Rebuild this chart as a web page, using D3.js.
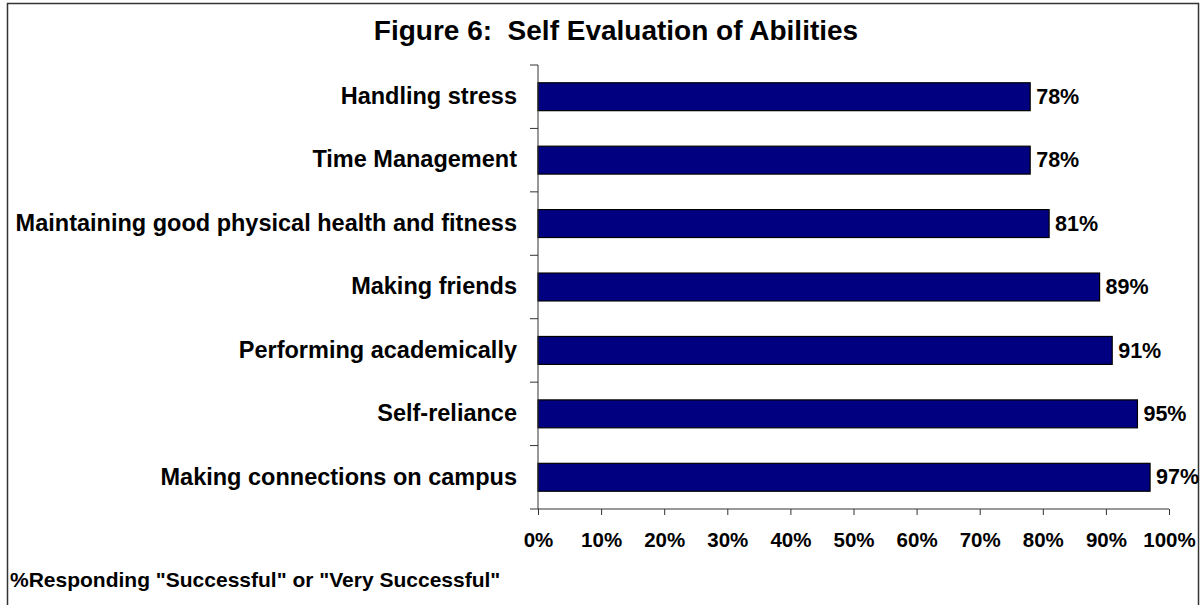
<!DOCTYPE html>
<html>
<head>
<meta charset="utf-8">
<script src="https://cdn.jsdelivr.net/npm/d3@7"></script>
<style>
  body { margin: 0; background: white; }
  svg { display: block; font-family: "Liberation Sans", Arial, sans-serif; }
</style>
</head>
<body>
<div id="chart"></div>
<script>
// data
const categories = [
  "Handling stress",
  "Time Management",
  "Maintaining good physical health and fitness",
  "Making friends",
  "Performing academically",
  "Self-reliance",
  "Making connections on campus"
];
const values = [78, 78, 81, 89, 91, 95, 97];
const xTicks = [0, 10, 20, 30, 40, 50, 60, 70, 80, 90, 100];
const title = "Figure 6:  Self Evaluation of Abilities";
const footnote = '%Responding "Successful" or "Very Successful"';

const width = 1203, height = 605;
const margins = { top: 65, right: 34, bottom: 96, left: 538 };
const boundedWidth = width - margins.left - margins.right;
const boundedHeight = height - margins.top - margins.bottom;

const svg = d3.select("#chart")
  .append("svg")
  .attr("width", width)
  .attr("height", height);

// outer frame (bottom edge runs off the picture)
svg.append("rect")
  .attr("x", 7.5).attr("y", 3.5)
  .attr("width", 1191).attr("height", 620)
  .attr("fill", "white")
  .attr("stroke", "#333")
  .attr("stroke-width", 1.5);

svg.append("text")
  .attr("x", 616).attr("y", 40)
  .attr("text-anchor", "middle")
  .attr("font-size", 28)
  .attr("font-weight", 700)
  .style("white-space", "pre")
  .text(title);

const bounds = svg.append("g")
  .attr("transform", `translate(${margins.left},${margins.top})`);

const xScale = d3.scaleLinear()
  .domain([0, 100])
  .range([0, boundedWidth]);

const yScale = d3.scaleBand()
  .domain(categories)
  .range([0, boundedHeight])
  .paddingInner(0.56)
  .paddingOuter(0.28);

// bars
bounds.selectAll("rect.bar")
  .data(categories)
  .join("rect")
  .attr("class", "bar")
  .attr("x", 0)
  .attr("y", d => yScale(d))
  .attr("width", (d, i) => xScale(values[i]))
  .attr("height", yScale.bandwidth())
  .attr("fill", "#000080")
  .attr("stroke", "black")
  .attr("stroke-width", 1.2);

// value labels
bounds.selectAll("text.val")
  .data(categories)
  .join("text")
  .attr("class", "val")
  .attr("x", (d, i) => xScale(values[i]) + 6)
  .attr("y", d => yScale(d) + yScale.bandwidth() / 2)
  .attr("dy", "0.33em")
  .attr("font-size", 21.5)
  .attr("font-weight", 700)
  .text((d, i) => values[i] + "%");

// y axis: ticks at band boundaries
const step = boundedHeight / categories.length;
const yAxisG = bounds.append("g");
yAxisG.append("line")
  .attr("x1", 0).attr("x2", 0)
  .attr("y1", 0).attr("y2", boundedHeight)
  .attr("stroke", "#333");
yAxisG.selectAll("line.tick")
  .data(d3.range(categories.length + 1))
  .join("line")
  .attr("class", "tick")
  .attr("x1", -8).attr("x2", 0)
  .attr("y1", i => i * step).attr("y2", i => i * step)
  .attr("stroke", "#333");
yAxisG.selectAll("text")
  .data(categories)
  .join("text")
  .attr("x", -21)
  .attr("y", d => yScale(d) + yScale.bandwidth() / 2)
  .attr("dy", "0.31em")
  .attr("text-anchor", "end")
  .attr("font-size", 23.5)
  .attr("font-weight", 700)
  .text(d => d);

// x axis
const xAxis = d3.axisBottom(xScale)
  .tickValues(xTicks)
  .tickSize(6)
  .tickPadding(17)
  .tickFormat(d => d + "%");

bounds.append("g")
  .attr("transform", `translate(0,${boundedHeight})`)
  .call(xAxis)
  .call(g => g.select(".domain").attr("d", `M0,0H${boundedWidth}`).attr("stroke", "#333"))
  .call(g => g.selectAll(".tick line").attr("stroke", "#333"))
  .attr("font-family", "Liberation Sans, Arial, sans-serif")
  .attr("font-size", 20.5)
  .attr("font-weight", 700)
  .attr("color", "black");

svg.append("text")
  .attr("x", 10).attr("y", 587)
  .attr("font-size", 21)
  .attr("font-weight", 700)
  .text(footnote);
</script>
</body>
</html>
